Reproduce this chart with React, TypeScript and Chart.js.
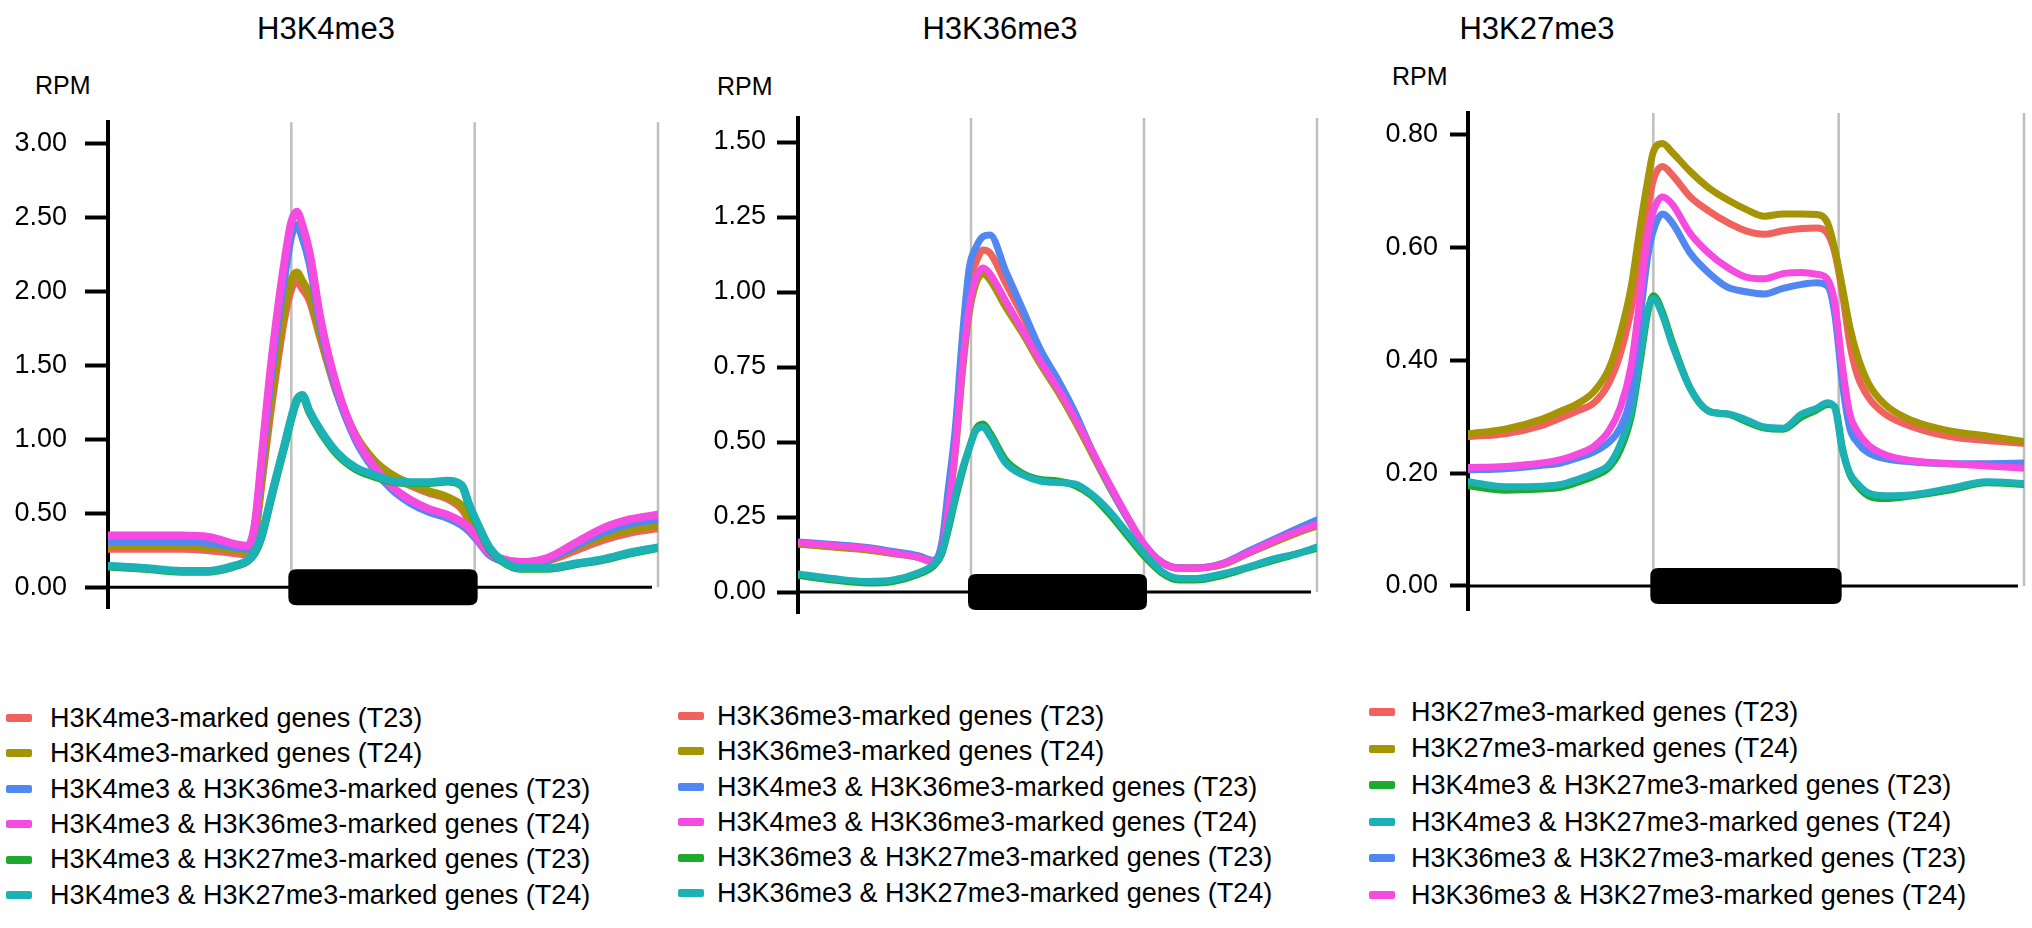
import React, { useEffect, useRef } from "react";
import { Chart, registerables } from "chart.js";

Chart.register(...registerables);

const FONT = '"Liberation Sans", Arial, Helvetica, sans-serif';

const RED = "#F0625D";
const OLIVE = "#A59505";
const BLUE = "#5087F0";
const MAGENTA = "#F54BE0";
const GREEN = "#1DAA2E";
const TEAL = "#1CB1B4";

// Gene model: upstream [0,1], gene body [1,2], downstream [2,3]
const GENE_START = 1;
const GENE_END = 2;
const GUIDES = [1, 2, 3];

// ---------- Panel 1: H3K4me3 ----------
const P1_TITLE = "H3K4me3";
const P1_TICKS = [0, 0.5, 1, 1.5, 2, 2.5, 3];
const P1_X = [0, 0.2, 0.4, 0.55, 0.7, 0.76, 0.8, 0.84, 0.88, 0.92, 0.96, 1.0, 1.03, 1.06, 1.1, 1.16, 1.25, 1.35, 1.45, 1.55, 1.65, 1.75, 1.85, 1.93, 1.97, 2.02, 2.08, 2.15, 2.25, 2.4, 2.55, 2.7, 2.85, 3.0];
const P1_K4_T23 = [0.26, 0.26, 0.26, 0.25, 0.23, 0.22, 0.34, 0.73, 1.13, 1.49, 1.81, 2.02, 2.07, 2.02, 1.94, 1.68, 1.31, 1.02, 0.85, 0.75, 0.69, 0.64, 0.6, 0.53, 0.45, 0.34, 0.23, 0.18, 0.16, 0.18, 0.25, 0.32, 0.37, 0.4];
const P1_K4_T24 = [0.28, 0.28, 0.28, 0.27, 0.25, 0.24, 0.36, 0.76, 1.18, 1.55, 1.87, 2.08, 2.13, 2.07, 1.98, 1.7, 1.32, 1.03, 0.86, 0.76, 0.7, 0.65, 0.61, 0.55, 0.47, 0.35, 0.24, 0.19, 0.17, 0.19, 0.27, 0.34, 0.39, 0.42];
const P1_K4K36_T23 = [0.31, 0.31, 0.31, 0.3, 0.27, 0.26, 0.4, 0.86, 1.33, 1.74, 2.08, 2.38, 2.45, 2.37, 2.19, 1.77, 1.32, 1.0, 0.8, 0.66, 0.57, 0.51, 0.47, 0.42, 0.38, 0.31, 0.22, 0.18, 0.16, 0.19, 0.28, 0.37, 0.43, 0.46];
const P1_K4K36_T24 = [0.35, 0.35, 0.35, 0.34, 0.29, 0.28, 0.42, 0.9, 1.4, 1.82, 2.18, 2.47, 2.54, 2.45, 2.26, 1.81, 1.35, 1.02, 0.82, 0.68, 0.59, 0.53, 0.49, 0.44, 0.4, 0.32, 0.23, 0.19, 0.17, 0.2, 0.3, 0.4, 0.46, 0.49];
const P1_K4K27_T23 = [0.14, 0.125, 0.105, 0.105, 0.145, 0.175, 0.23, 0.35, 0.55, 0.75, 0.94, 1.14, 1.26, 1.29, 1.18, 1.05, 0.9, 0.8, 0.75, 0.715, 0.705, 0.705, 0.715, 0.685, 0.55, 0.41, 0.26, 0.175, 0.125, 0.125, 0.155, 0.185, 0.23, 0.265];
const P1_K4K27_T24 = [0.145, 0.13, 0.11, 0.11, 0.15, 0.18, 0.24, 0.36, 0.56, 0.76, 0.95, 1.15, 1.27, 1.3, 1.19, 1.06, 0.91, 0.81, 0.76, 0.72, 0.71, 0.71, 0.72, 0.69, 0.56, 0.42, 0.27, 0.18, 0.13, 0.13, 0.16, 0.19, 0.235, 0.27];

// ---------- Panel 2: H3K36me3 ----------
const P2_TITLE = "H3K36me3";
const P2_TICKS = [0, 0.25, 0.5, 0.75, 1, 1.25, 1.5];
const P2_X = [0, 0.2, 0.4, 0.55, 0.7, 0.78, 0.83, 0.87, 0.91, 0.95, 0.99, 1.03, 1.07, 1.11, 1.2, 1.3, 1.4, 1.5, 1.6, 1.7, 1.8, 1.9, 2.0, 2.1, 2.2, 2.3, 2.45, 2.6, 2.75, 2.9, 3.0];
const P2_K36_T23 = [0.16, 0.152, 0.142, 0.13, 0.115, 0.1, 0.14, 0.31, 0.52, 0.8, 1.03, 1.1, 1.14, 1.13, 1.03, 0.92, 0.8, 0.7, 0.59, 0.47, 0.355, 0.25, 0.158, 0.1, 0.08, 0.08, 0.093, 0.13, 0.17, 0.205, 0.225];
const P2_K36_T24 = [0.16, 0.15, 0.14, 0.128, 0.115, 0.105, 0.135, 0.28, 0.47, 0.73, 0.93, 1.03, 1.06, 1.04, 0.95, 0.86, 0.76, 0.67, 0.57, 0.46, 0.35, 0.25, 0.155, 0.1, 0.08, 0.08, 0.09, 0.128, 0.165, 0.2, 0.22];
const P2_K4K36_T23 = [0.167, 0.158, 0.148, 0.135, 0.12, 0.105, 0.16, 0.35, 0.55, 0.85, 1.08, 1.15, 1.185, 1.19, 1.07, 0.94, 0.81, 0.71, 0.6, 0.47, 0.355, 0.25, 0.16, 0.1, 0.08, 0.08, 0.095, 0.135, 0.175, 0.215, 0.24];
const P2_K4K36_T24 = [0.165, 0.155, 0.145, 0.13, 0.115, 0.1, 0.13, 0.28, 0.48, 0.75, 0.95, 1.05, 1.08, 1.06, 0.97, 0.87, 0.77, 0.68, 0.58, 0.47, 0.36, 0.255, 0.16, 0.1, 0.08, 0.08, 0.093, 0.13, 0.17, 0.205, 0.225];
const P2_K36K27_T23 = [0.055, 0.04, 0.03, 0.035, 0.06, 0.085, 0.125, 0.21, 0.31, 0.4, 0.48, 0.545, 0.56, 0.53, 0.44, 0.395, 0.375, 0.37, 0.355, 0.32, 0.26, 0.19, 0.12, 0.065, 0.04, 0.04, 0.055, 0.08, 0.105, 0.13, 0.145];
const P2_K36K27_T24 = [0.06, 0.045, 0.035, 0.04, 0.065, 0.09, 0.13, 0.22, 0.32, 0.41, 0.48, 0.54, 0.55, 0.52, 0.43, 0.39, 0.37, 0.365, 0.36, 0.325, 0.27, 0.2, 0.13, 0.07, 0.046, 0.045, 0.06, 0.083, 0.11, 0.13, 0.15];

// ---------- Panel 3: H3K27me3 ----------
const P3_TITLE = "H3K27me3";
const P3_TICKS = [0, 0.2, 0.4, 0.6, 0.8];
const P3_X = [0, 0.2, 0.4, 0.5, 0.6, 0.68, 0.76, 0.82, 0.88, 0.93, 0.97, 1.0, 1.05, 1.1, 1.2, 1.3, 1.4, 1.5, 1.6, 1.7, 1.8, 1.88, 1.94, 1.98, 2.02, 2.06, 2.1, 2.16, 2.25, 2.4, 2.6, 2.8, 3.0];
const P3_K27_T23 = [0.265, 0.27, 0.285, 0.298, 0.312, 0.325, 0.36, 0.41, 0.49, 0.585, 0.67, 0.72, 0.744, 0.73, 0.69, 0.665, 0.645, 0.63, 0.624, 0.63, 0.634, 0.635, 0.625, 0.59, 0.52, 0.43, 0.375, 0.335, 0.305, 0.282, 0.265, 0.258, 0.253];
const P3_K27_T24 = [0.27, 0.278, 0.296, 0.31, 0.325, 0.345, 0.385, 0.445, 0.53, 0.64, 0.72, 0.77, 0.785, 0.77, 0.735, 0.706, 0.685, 0.668, 0.656, 0.66, 0.66, 0.659, 0.644, 0.597, 0.53, 0.46, 0.41, 0.36, 0.322, 0.293, 0.275, 0.266, 0.256];
const P3_K4K27_T23 = [0.178, 0.17, 0.172, 0.175, 0.185, 0.195, 0.21, 0.24, 0.3, 0.4, 0.485, 0.515, 0.485, 0.435, 0.35, 0.31, 0.305, 0.292, 0.28, 0.278, 0.3, 0.312, 0.322, 0.318, 0.245, 0.198, 0.178, 0.16, 0.155, 0.16, 0.17, 0.183, 0.18];
const P3_K4K27_T24 = [0.185, 0.176, 0.177, 0.18, 0.19, 0.2, 0.215, 0.25, 0.31, 0.41, 0.49, 0.51, 0.48, 0.43, 0.35, 0.31, 0.305, 0.295, 0.282, 0.28, 0.305, 0.315, 0.325, 0.315, 0.24, 0.2, 0.182, 0.165, 0.16, 0.162, 0.173, 0.185, 0.182];
const P3_K36K27_T23 = [0.206, 0.208, 0.214, 0.218, 0.228, 0.238, 0.255, 0.28, 0.34, 0.48, 0.585, 0.63, 0.66, 0.645, 0.59, 0.555, 0.53, 0.522, 0.518, 0.528, 0.535, 0.538, 0.532, 0.48, 0.36, 0.28, 0.255, 0.236, 0.226, 0.22, 0.217, 0.217, 0.218];
const P3_K36K27_T24 = [0.21, 0.212, 0.218, 0.224, 0.235, 0.248, 0.275, 0.315, 0.39, 0.515, 0.62, 0.665, 0.69, 0.678, 0.625, 0.59, 0.565, 0.548, 0.545, 0.554, 0.556, 0.553, 0.544, 0.5, 0.39, 0.305, 0.275, 0.25, 0.233, 0.222, 0.217, 0.213, 0.209];

type Series = { label: string; color: string; values: number[] };

const P1_SERIES: Series[] = [
  { label: "H3K4me3-marked genes (T23)", color: RED, values: P1_K4_T23 },
  { label: "H3K4me3-marked genes (T24)", color: OLIVE, values: P1_K4_T24 },
  { label: "H3K4me3 & H3K36me3-marked genes (T23)", color: BLUE, values: P1_K4K36_T23 },
  { label: "H3K4me3 & H3K36me3-marked genes (T24)", color: MAGENTA, values: P1_K4K36_T24 },
  { label: "H3K4me3 & H3K27me3-marked genes (T23)", color: GREEN, values: P1_K4K27_T23 },
  { label: "H3K4me3 & H3K27me3-marked genes (T24)", color: TEAL, values: P1_K4K27_T24 },
];
const P2_SERIES: Series[] = [
  { label: "H3K36me3-marked genes (T23)", color: RED, values: P2_K36_T23 },
  { label: "H3K36me3-marked genes (T24)", color: OLIVE, values: P2_K36_T24 },
  { label: "H3K4me3 & H3K36me3-marked genes (T23)", color: BLUE, values: P2_K4K36_T23 },
  { label: "H3K4me3 & H3K36me3-marked genes (T24)", color: MAGENTA, values: P2_K4K36_T24 },
  { label: "H3K36me3 & H3K27me3-marked genes (T23)", color: GREEN, values: P2_K36K27_T23 },
  { label: "H3K36me3 & H3K27me3-marked genes (T24)", color: TEAL, values: P2_K36K27_T24 },
];
const P3_SERIES: Series[] = [
  { label: "H3K27me3-marked genes (T23)", color: RED, values: P3_K27_T23 },
  { label: "H3K27me3-marked genes (T24)", color: OLIVE, values: P3_K27_T24 },
  { label: "H3K4me3 & H3K27me3-marked genes (T23)", color: GREEN, values: P3_K4K27_T23 },
  { label: "H3K4me3 & H3K27me3-marked genes (T24)", color: TEAL, values: P3_K4K27_T24 },
  { label: "H3K36me3 & H3K27me3-marked genes (T23)", color: BLUE, values: P3_K36K27_T23 },
  { label: "H3K36me3 & H3K27me3-marked genes (T24)", color: MAGENTA, values: P3_K36K27_T24 },
];

type PanelCfg = {
  title: string;
  xs: number[];
  series: Series[];
  ticks: number[];
  yMin: number;
  yMax: number;
  canvasLeft: number;
  axisX: number;
  top: number;
  bottom: number;
  right: number;
  tickLen: number;
  tickPad: number;
  lineWidth: number;
  titleX: number;
  titleY: number;
  rpmX: number;
  rpmY: number;
  legendSwatchX: number;
  legendTextX: number;
  legendY0: number;
  legendDy: number;
};

const PANELS: PanelCfg[] = [
  {
    title: P1_TITLE, xs: P1_X, series: P1_SERIES, ticks: P1_TICKS,
    yMin: -0.146, yMax: 3.146,
    canvasLeft: 0, axisX: 108, top: 118, bottom: 613, right: 658,
    tickLen: 23, tickPad: 18, lineWidth: 8,
    titleX: 326, titleY: 28, rpmX: 35, rpmY: 85,
    legendSwatchX: 6, legendTextX: 50, legendY0: 718, legendDy: 35.4,
  },
  {
    title: P2_TITLE, xs: P2_X, series: P2_SERIES, ticks: P2_TICKS,
    yMin: -0.07, yMax: 1.58,
    canvasLeft: 680, axisX: 798, top: 118, bottom: 613, right: 1317,
    tickLen: 21, tickPad: 11, lineWidth: 7,
    titleX: 1000, titleY: 28, rpmX: 717, rpmY: 86,
    legendSwatchX: 678, legendTextX: 717, legendY0: 716, legendDy: 35.4,
  },
  {
    title: P3_TITLE, xs: P3_X, series: P3_SERIES, ticks: P3_TICKS,
    yMin: -0.0426, yMax: 0.839,
    canvasLeft: 1340, axisX: 1468, top: 113, bottom: 610, right: 2024,
    tickLen: 18, tickPad: 12, lineWidth: 7,
    titleX: 1537, titleY: 28, rpmX: 1392, rpmY: 76,
    legendSwatchX: 1369, legendTextX: 1411, legendY0: 712, legendDy: 36.6,
  },
];

const PAD_V = 30;
const PAD_R = 8;

const decorPlugin = {
  id: "decor",
  beforeDatasetsDraw(chart: any) {
    const { ctx, chartArea, scales } = chart;
    const x = scales.x;
    const y = scales.y;
    const y0 = y.getPixelForValue(0);
    ctx.save();
    ctx.strokeStyle = "#BEBEBE";
    ctx.lineWidth = 2.5;
    for (const g of GUIDES) {
      const px = x.getPixelForValue(g);
      ctx.beginPath();
      ctx.moveTo(px, chartArea.top);
      ctx.lineTo(px, y0);
      ctx.stroke();
    }
    ctx.restore();
  },
  afterDatasetsDraw(chart: any) {
    const { ctx, chartArea, scales } = chart;
    const x = scales.x;
    const y = scales.y;
    const y0 = y.getPixelForValue(0);
    ctx.save();
    ctx.strokeStyle = "#000";
    ctx.lineWidth = 3;
    ctx.beginPath();
    ctx.moveTo(chartArea.left, y0);
    ctx.lineTo(x.getPixelForValue(3) - 6, y0);
    ctx.stroke();
    const x1 = x.getPixelForValue(GENE_START) - 3;
    const x2 = x.getPixelForValue(GENE_END) + 3;
    const h = 36;
    const r = 8;
    const yt = y0 - h / 2;
    ctx.fillStyle = "#000";
    ctx.beginPath();
    ctx.moveTo(x1 + r, yt);
    ctx.lineTo(x2 - r, yt);
    ctx.quadraticCurveTo(x2, yt, x2, yt + r);
    ctx.lineTo(x2, yt + h - r);
    ctx.quadraticCurveTo(x2, yt + h, x2 - r, yt + h);
    ctx.lineTo(x1 + r, yt + h);
    ctx.quadraticCurveTo(x1, yt + h, x1, yt + h - r);
    ctx.lineTo(x1, yt + r);
    ctx.quadraticCurveTo(x1, yt, x1 + r, yt);
    ctx.closePath();
    ctx.fill();
    ctx.restore();
  },
};

function Panel({ cfg }: { cfg: PanelCfg }) {
  const ref = useRef<HTMLCanvasElement | null>(null);
  const width = cfg.right + PAD_R - cfg.canvasLeft;
  const height = cfg.bottom - cfg.top + 2 * PAD_V;

  useEffect(() => {
    if (!ref.current) return;
    const datasets = cfg.series
      .map((s) => ({
        label: s.label,
        data: cfg.xs.map((xv, i) => ({ x: xv, y: s.values[i] })),
        borderColor: s.color,
        backgroundColor: s.color,
        borderWidth: cfg.lineWidth,
        pointRadius: 0,
        fill: false,
        cubicInterpolationMode: "monotone" as const,
        borderCapStyle: "round" as const,
        borderJoinStyle: "round" as const,
      }))
      .reverse();

    const chart = new Chart(ref.current, {
      type: "line",
      data: { datasets },
      options: {
        animation: false,
        responsive: false,
        devicePixelRatio: 1,
        layout: { padding: { left: 0, right: PAD_R, top: PAD_V, bottom: PAD_V } },
        plugins: { legend: { display: false }, tooltip: { enabled: false }, title: { display: false } },
        scales: {
          x: { type: "linear", min: 0, max: 3, display: false },
          y: {
            type: "linear",
            min: cfg.yMin,
            max: cfg.yMax,
            afterBuildTicks: (s: any) => {
              s.ticks = cfg.ticks.map((v) => ({ value: v }));
            },
            afterFit: (s: any) => {
              s.width = cfg.axisX - cfg.canvasLeft;
            },
            ticks: {
              color: "#000",
              padding: cfg.tickPad,
              font: { family: FONT, size: 27 },
              callback: (v: any) => Number(v).toFixed(2),
            },
            grid: {
              drawOnChartArea: false,
              drawTicks: true,
              tickLength: cfg.tickLen,
              tickColor: "#000",
              tickWidth: 4,
              color: "#000",
            },
            border: { display: true, color: "#000", width: 4 },
          },
        },
      },
      plugins: [decorPlugin],
    } as any);
    return () => chart.destroy();
  }, [cfg]);

  const textStyle = (size: number): React.CSSProperties => ({
    position: "absolute",
    fontFamily: FONT,
    fontSize: size,
    lineHeight: `${size}px`,
    color: "#000",
    whiteSpace: "nowrap",
  });

  return (
    <>
      <div
        style={{
          ...textStyle(31),
          left: cfg.titleX - 200,
          width: 400,
          textAlign: "center",
          top: cfg.titleY - 0.49 * 31,
        }}
      >
        {cfg.title}
      </div>
      <div style={{ ...textStyle(25), left: cfg.rpmX, top: cfg.rpmY - 0.49 * 25 }}>RPM</div>
      <canvas
        ref={ref}
        width={width}
        height={height}
        style={{
          position: "absolute",
          left: cfg.canvasLeft,
          top: cfg.top - PAD_V,
          width,
          height,
        }}
      />
      {cfg.series.map((s, i) => {
        const cy = cfg.legendY0 + i * cfg.legendDy;
        return (
          <React.Fragment key={s.label}>
            <div
              style={{
                position: "absolute",
                left: cfg.legendSwatchX,
                top: cy - 4,
                width: 26,
                height: 8,
                borderRadius: 2,
                background: s.color,
              }}
            />
            <div style={{ ...textStyle(27), left: cfg.legendTextX, top: cy - 0.49 * 27 }}>{s.label}</div>
          </React.Fragment>
        );
      })}
    </>
  );
}

export default function App() {
  return (
    <div
      style={{
        position: "absolute",
        left: 0,
        top: 0,
        width: 2032,
        height: 928,
        background: "#fff",
        overflow: "hidden",
      }}
    >
      {PANELS.map((p) => (
        <Panel key={p.title} cfg={p} />
      ))}
    </div>
  );
}
